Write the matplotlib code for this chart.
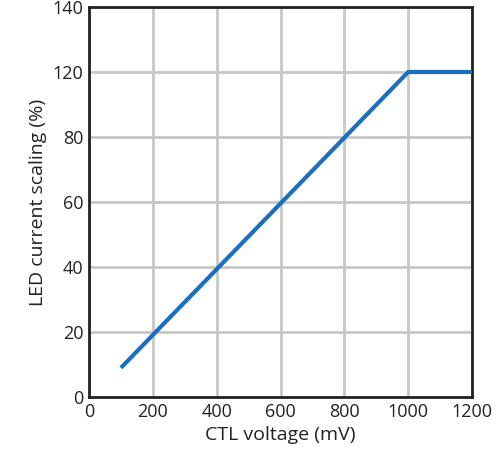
import matplotlib
matplotlib.use("Agg")
import matplotlib.pyplot as plt

x_mv = [100, 1000, 1200]
y_pct = [9, 100, 100]
xticks = [0, 200, 400, 600, 800, 1000, 1200]
ytick_pos = [0, 20, 40, 60, 80, 100, 120]
ytick_labels = ['0', '20', '40', '60', '80', '120', '140']

plt.rcParams['font.family'] = ['Open Sans', 'DejaVu Sans']
fig = plt.figure(figsize=(5, 4.65), dpi=100)
ax = fig.add_axes([0.178, 0.146, 0.766, 0.839])
ax.plot(x_mv, y_pct, color='#1b6fbf', lw=3, solid_capstyle='butt', zorder=3)
ax.set_xlim(0, 1200)
ax.set_ylim(0, 120)
ax.set_xticks(xticks)
ax.set_yticks(ytick_pos)
ax.set_yticklabels(ytick_labels)
ax.grid(True, color='#c8c8c8', lw=2)
for s in ax.spines.values():
    s.set_linewidth(2)
    s.set_color('#222222')
ax.tick_params(length=0, labelsize=13, pad=4, colors='#222222')
ax.set_xlabel('CTL voltage (mV)', fontsize=14, color='#222222')
ax.set_ylabel('LED current scaling (%)', fontsize=14, color='#222222')
fig.savefig('out.png')
